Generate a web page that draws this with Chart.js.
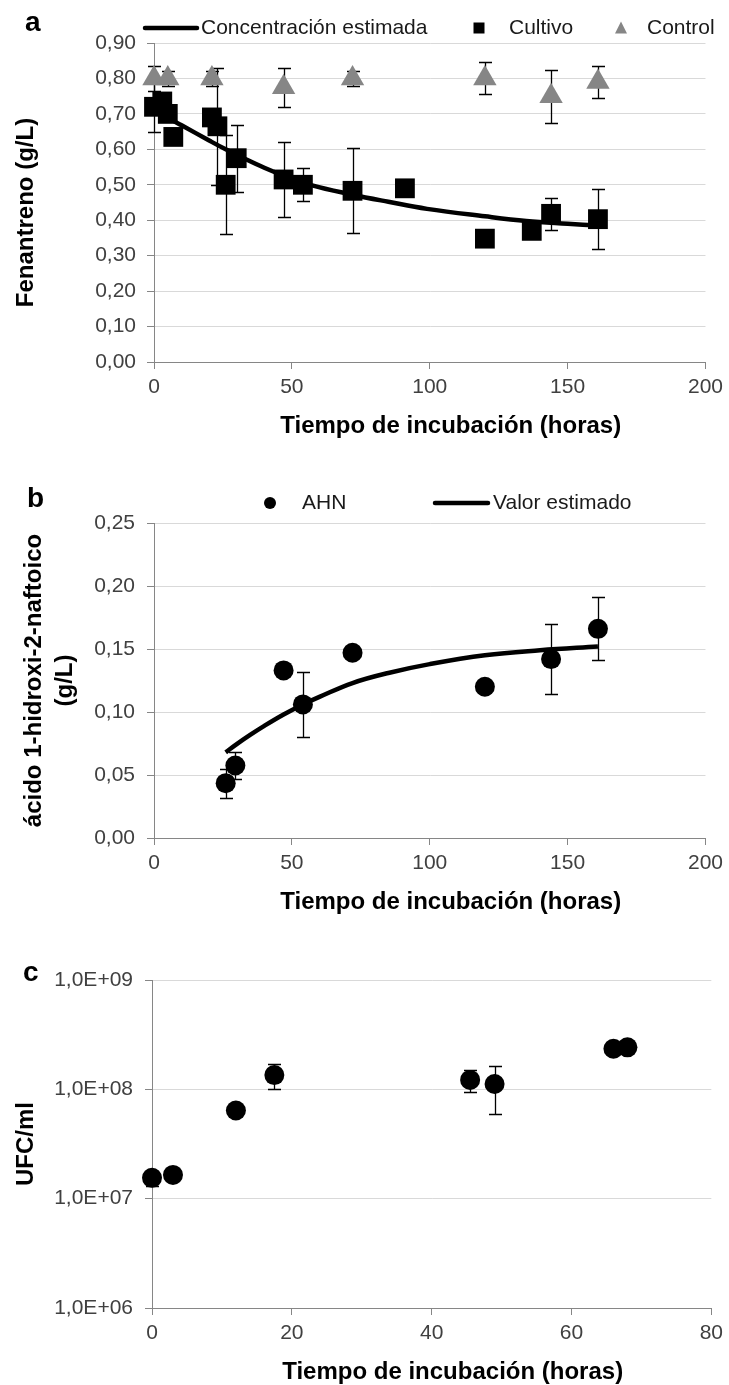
<!DOCTYPE html>
<html>
<head>
<meta charset="utf-8">
<script src="https://cdn.jsdelivr.net/npm/chart.js@4/dist/chart.umd.min.js"></script>
<style>
html,body{margin:0;padding:0;background:#fff;}
#wrap{position:relative;width:729px;height:1385px;overflow:hidden;background:#fff;}
.panel{position:absolute;left:0;width:729px;}
.lbl{position:absolute;font-family:"Liberation Sans",Arial,sans-serif;font-weight:bold;font-size:28px;line-height:28px;color:#000;}
</style>
</head>
<body>
<div id="wrap">
  <div class="panel" style="top:0px;height:440px"><canvas id="ca"></canvas></div>
  <div class="panel" style="top:440px;height:476px"><canvas id="cb"></canvas></div>
  <div class="panel" style="top:916px;height:469px"><canvas id="cc"></canvas></div>
  <div class="lbl" style="left:25px;top:8px">a</div>
  <div class="lbl" style="left:27px;top:484px">b</div>
  <div class="lbl" style="left:23px;top:958px">c</div>
</div>
<script>
// ---------- DATA ----------
// Panel a: Fenantreno (g/L)
const cultivoHours = [0, 3, 5, 7, 21, 23, 26, 30, 47, 54, 72, 91, 120, 137, 144, 161];
const cultivoConc  = [0.72, 0.735, 0.70, 0.635, 0.69, 0.665, 0.50, 0.575, 0.515, 0.50, 0.483, 0.49, 0.348, 0.37, 0.418, 0.403];
const cultivoErr   = [0.07, 0, 0, 0, 0, 0.165, 0.14, 0.095, 0.107, 0.047, 0.12, 0, 0, 0, 0.045, 0.085];
const controlHours = [0, 5, 21, 47, 72, 120, 144, 161];
const controlConc  = [0.80, 0.80, 0.80, 0.775, 0.80, 0.80, 0.75, 0.79];
const controlErr   = [0.035, 0.02, 0.02, 0.055, 0.02, 0.045, 0.075, 0.045];
const estimadaHours = [0, 5, 10, 20, 26, 32, 40, 47, 57, 72, 85, 99, 120, 135, 150, 161];
const estimadaConc  = [0.72, 0.69, 0.668, 0.625, 0.60, 0.577, 0.548, 0.526, 0.499, 0.472, 0.452, 0.432, 0.411, 0.398, 0.39, 0.385];
const yTickLabelsA = ['0,00','0,10','0,20','0,30','0,40','0,50','0,60','0,70','0,80','0,90'];

// Panel b: ácido 1-hidroxi-2-naftoico (g/L)
const ahnHours = [26, 29.5, 47, 54, 72, 120, 144, 161];
const ahnConc  = [0.0435, 0.0575, 0.133, 0.106, 0.147, 0.120, 0.142, 0.166];
const ahnErr   = [0.0115, 0.0105, 0, 0.026, 0, 0, 0.028, 0.025];
const valorHours = [26, 30, 35, 40, 47, 54, 60, 72, 85, 100, 120, 140, 161];
const valorConc  = [0.068, 0.0745, 0.082, 0.089, 0.098, 0.106, 0.112, 0.123, 0.131, 0.138, 0.145, 0.149, 0.152];
const yTickLabelsB = ['0,00','0,05','0,10','0,15','0,20','0,25'];

// Panel c: UFC/ml
const ufcHours = [0, 3, 12, 17.5, 45.5, 49, 66, 68];
const ufcValues = [1.55e7, 1.65e7, 6.4e7, 1.35e8, 1.22e8, 1.12e8, 2.35e8, 2.42e8];
const ufcErr    = [0.25e7, 0, 0, 0.35e8, 0.28e8, 0.53e8, 0, 0];
const yTickValuesC = [1e6, 1e7, 1e8, 1e9];
const yTickLabelsC = ['1,0E+06', '1,0E+07', '1,0E+08', '1,0E+09'];

const xTitle = 'Tiempo de incubación (horas)';
const yTitleA = ['Fenantreno (g/L)'];
const yTitleB = ['ácido 1-hidroxi-2-naftoico', '(g/L)'];
const yTitleC = ['UFC/ml'];

// ---------- HELPERS ----------
const FONT = '"Liberation Sans", Arial, Helvetica, sans-serif';
function pts(xs, ys){ return xs.map((x, i) => ({x: x, y: ys[i]})); }

const errorBars = {
  id: 'errorBars',
  beforeDatasetsDraw(chart){
    const ctx = chart.ctx, xs = chart.scales.x, ys = chart.scales.y;
    ctx.save();
    ctx.strokeStyle = '#000';
    ctx.lineWidth = 1.3;
    chart.data.datasets.forEach(ds => {
      if (!ds.errors) return;
      ds.data.forEach((p, i) => {
        const e = ds.errors[i];
        if (!e) return;
        const px = Math.round(xs.getPixelForValue(p.x)) + 0.5;
        const t = Math.round(ys.getPixelForValue(p.y + e)) + 0.5;
        const b = Math.round(ys.getPixelForValue(p.y - e)) + 0.5;
        const cap = 6.5;
        ctx.beginPath();
        ctx.moveTo(px, t); ctx.lineTo(px, b);
        ctx.moveTo(px - cap, t); ctx.lineTo(px + cap, t);
        ctx.moveTo(px - cap, b); ctx.lineTo(px + cap, b);
        ctx.stroke();
      });
    });
    ctx.restore();
  }
};

const panelLegend = {
  id: 'panelLegend',
  afterDraw(chart, args, opts){
    if (!opts || !opts.items) return;
    const ctx = chart.ctx;
    const y = opts.y;
    ctx.save();
    opts.items.forEach(it => {
      const ds = chart.data.datasets[it.dataset];
      ctx.fillStyle = ds.backgroundColor || ds.borderColor;
      if (it.marker === 'line') {
        ctx.strokeStyle = ds.borderColor;
        ctx.lineWidth = ds.borderWidth;
        ctx.lineCap = 'round';
        ctx.beginPath(); ctx.moveTo(it.x1, y); ctx.lineTo(it.x2, y); ctx.stroke();
      } else if (it.marker === 'rect') {
        ctx.fillRect(it.cx - it.s / 2, y - it.s / 2, it.s, it.s);
      } else if (it.marker === 'triangle') {
        ctx.beginPath();
        ctx.moveTo(it.cx, y - it.s * 0.55);
        ctx.lineTo(it.cx + it.s / 2, y + it.s * 0.45);
        ctx.lineTo(it.cx - it.s / 2, y + it.s * 0.45);
        ctx.closePath(); ctx.fill();
      } else if (it.marker === 'circle') {
        ctx.beginPath(); ctx.arc(it.cx, y, it.s / 2, 0, Math.PI * 2); ctx.fill();
      }
      ctx.fillStyle = opts.color;
      ctx.font = opts.font;
      ctx.textBaseline = 'middle';
      ctx.textAlign = 'left';
      ctx.fillText(ds.label, it.tx, y);
    });
    ctx.restore();
  }
};

// Axis titles placed relative to the chart area (Excel-like placement)
const axisTitles = {
  id: 'axisTitles',
  afterDraw(chart, args, opts){
    const ctx = chart.ctx, ca = chart.chartArea;
    ctx.save();
    ctx.fillStyle = '#000';
    ctx.font = 'bold 24px ' + FONT;
    ctx.textAlign = 'center';
    ctx.textBaseline = 'middle';
    if (opts.x) {
      ctx.fillText(opts.x.text, (ca.left + ca.right) / 2 + opts.x.dx, ca.bottom + opts.x.dy);
    }
    if (opts.y) {
      ctx.translate(opts.y.cx, (ca.top + ca.bottom) / 2 + opts.y.dy);
      ctx.rotate(-Math.PI / 2);
      opts.y.text.forEach((line, i) => ctx.fillText(line, 0, i * opts.y.lh));
    }
    ctx.restore();
  }
};

function xAxis(max, step, h){
  return {
    type: 'linear', min: 0, max: max,
    ticks: {stepSize: step, color: '#404040', font: {family: FONT, size: 21}, padding: 6, maxRotation: 0, autoSkip: false},
    grid: {drawOnChartArea: false, color: '#868686', tickLength: 7},
    border: {color: '#868686', width: 1},
    title: {display: false},
    afterFit(s){ s.height = h; }
  };
}
function yGrid(){ return {color: '#d9d9d9', tickColor: '#868686', tickLength: 7}; }

const common = {
  responsive: true,
  maintainAspectRatio: false,
  animation: false,
  events: [],
  devicePixelRatio: 1
};

// ---------- PANEL A ----------
new Chart(document.getElementById('ca'), {
  type: 'scatter',
  data: {
    datasets: [
      {label: 'Concentración estimada', data: pts(estimadaHours, estimadaConc), showLine: true, borderColor: '#000', backgroundColor: '#000', borderWidth: 4.5, pointRadius: 0, tension: 0.4, fill: false, order: 3, clip: false},
      {label: 'Cultivo', data: pts(cultivoHours, cultivoConc), errors: cultivoErr, pointStyle: 'rect', pointRadius: 14, backgroundColor: '#000', borderColor: '#000', pointBorderWidth: 0, order: 1, clip: false},
      {label: 'Control', data: pts(controlHours, controlConc), errors: controlErr, pointStyle: 'triangle', pointRadius: 13.5, backgroundColor: '#868686', borderColor: '#868686', pointBorderWidth: 0, order: 2, clip: false}
    ]
  },
  options: Object.assign({}, common, {
    layout: {padding: {top: 43, right: 20, left: 0, bottom: 0}},
    plugins: {
      legend: {display: false}, tooltip: {enabled: false},
      panelLegend: {
        y: 28, color: '#1a1a1a', font: '21px ' + FONT,
        items: [
          {dataset: 0, marker: 'line', x1: 145, x2: 197, tx: 201},
          {dataset: 1, marker: 'rect', cx: 479, s: 11, tx: 509},
          {dataset: 2, marker: 'triangle', cx: 621, s: 12, tx: 647}
        ]
      },
      axisTitles: {
        x: {text: xTitle, dx: 21, dy: 64},
        y: {text: yTitleA, cx: 26, dy: 10, lh: 31}
      }
    },
    scales: {
      x: xAxis(200, 50, 78),
      y: {
        type: 'linear', min: 0, max: 0.9,
        ticks: {stepSize: 0.1, color: '#404040', font: {family: FONT, size: 21}, padding: 11,
                callback: v => yTickLabelsA[Math.round(v * 10)]},
        grid: yGrid(),
        border: {color: '#868686', width: 1},
        title: {display: false},
        afterFit(s){ s.width = 154; }
      }
    }
  }),
  plugins: [errorBars, panelLegend, axisTitles]
});

// ---------- PANEL B ----------
new Chart(document.getElementById('cb'), {
  type: 'scatter',
  data: {
    datasets: [
      {label: 'AHN', data: pts(ahnHours, ahnConc), errors: ahnErr, pointStyle: 'circle', pointRadius: 10, backgroundColor: '#000', borderColor: '#000', pointBorderWidth: 0, order: 1, clip: false},
      {label: 'Valor estimado', data: pts(valorHours, valorConc), showLine: true, borderColor: '#000', backgroundColor: '#000', borderWidth: 4.5, pointRadius: 0, tension: 0.4, fill: false, order: 2, clip: false}
    ]
  },
  options: Object.assign({}, common, {
    layout: {padding: {top: 83, right: 20, left: 0, bottom: 0}},
    plugins: {
      legend: {display: false}, tooltip: {enabled: false},
      panelLegend: {
        y: 63, color: '#1a1a1a', font: '21px ' + FONT,
        items: [
          {dataset: 0, marker: 'circle', cx: 270, s: 12, tx: 302},
          {dataset: 1, marker: 'line', x1: 435, x2: 488, tx: 493}
        ]
      },
      axisTitles: {
        x: {text: xTitle, dx: 21, dy: 64},
        y: {text: yTitleB, cx: 34, dy: 0, lh: 31}
      }
    },
    scales: {
      x: xAxis(200, 50, 78),
      y: {
        type: 'linear', min: 0, max: 0.25,
        ticks: {stepSize: 0.05, color: '#404040', font: {family: FONT, size: 21}, padding: 12,
                callback: v => yTickLabelsB[Math.round(v * 20)]},
        grid: yGrid(),
        border: {color: '#868686', width: 1},
        title: {display: false},
        afterFit(s){ s.width = 154; }
      }
    }
  }),
  plugins: [errorBars, panelLegend, axisTitles]
});

// ---------- PANEL C ----------
new Chart(document.getElementById('cc'), {
  type: 'scatter',
  data: {
    datasets: [
      {label: 'UFC/ml', data: pts(ufcHours, ufcValues), errors: ufcErr, pointStyle: 'circle', pointRadius: 10, backgroundColor: '#000', borderColor: '#000', pointBorderWidth: 0, clip: false}
    ]
  },
  options: Object.assign({}, common, {
    layout: {padding: {top: 64, right: 15, left: 0, bottom: 0}},
    plugins: {
      legend: {display: false}, tooltip: {enabled: false},
      axisTitles: {
        x: {text: xTitle, dx: 21, dy: 64},
        y: {text: yTitleC, cx: 26, dy: 0, lh: 31}
      }
    },
    scales: {
      x: xAxis(80, 20, 77),
      y: {
        type: 'logarithmic', min: 1e6, max: 1e9,
        afterBuildTicks(s){ s.ticks = yTickValuesC.map(v => ({value: v})); },
        ticks: {color: '#404040', font: {family: FONT, size: 21}, padding: 12,
                callback: v => yTickLabelsC[yTickValuesC.indexOf(v)]},
        grid: yGrid(),
        border: {color: '#868686', width: 1},
        title: {display: false},
        afterFit(s){ s.width = 152; }
      }
    }
  }),
  plugins: [errorBars, axisTitles]
});
</script>
</body>
</html>
